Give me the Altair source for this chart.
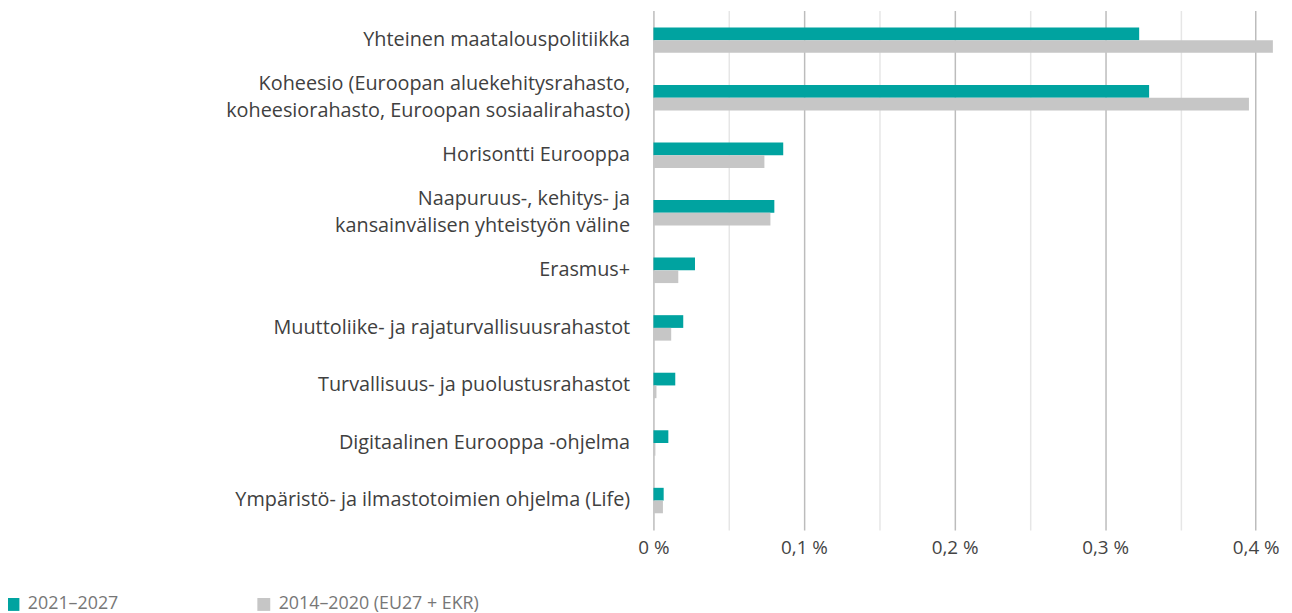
import altair as alt
import pandas as pd

categories = [
    "Yhteinen maatalouspolitiikka",
    "Koheesio (Euroopan aluekehitysrahasto,\nkoheesiorahasto, Euroopan sosiaalirahasto)",
    "Horisontti Eurooppa",
    "Naapuruus-, kehitys- ja\nkansainvälisen yhteistyön väline",
    "Erasmus+",
    "Muuttoliike- ja rajaturvallisuusrahastot",
    "Turvallisuus- ja puolustusrahastot",
    "Digitaalinen Eurooppa -ohjelma",
    "Ympäristö- ja ilmastotoimien ohjelma (Life)",
]
series = ["2021–2027", "2014–2020 (EU27 + EKR)"]
values_2021_2027 = [0.3226, 0.3292, 0.0862, 0.0803, 0.0276, 0.0198, 0.0145, 0.0099, 0.0068]
values_2014_2020 = [0.4114, 0.3955, 0.0737, 0.0777, 0.0165, 0.0118, 0.0020, 0.0013, 0.0063]
x_ticks = [0, 0.05, 0.1, 0.15, 0.2, 0.25, 0.3, 0.35, 0.4]
colors = ["#00a3a0", "#c6c6c6"]

rows = []
for c, a, b in zip(categories, values_2021_2027, values_2014_2020):
    rows.append({"category": c, "series": series[0], "value": a})
    rows.append({"category": c, "series": series[1], "value": b})
df = pd.DataFrame(rows)

FONT = "Open Sans"

label_expr = (
    "round(datum.value * 20) % 2 == 1 ? '' : "
    "(datum.value == 0 ? '0 %' : replace(format(datum.value, '.1f'), '.', ',') + ' %')"
)

chart = alt.Chart(df).mark_bar().encode(
    x=alt.X(
        "value:Q",
        title=None,
        scale=alt.Scale(domain=[0, 0.4122], nice=False, zero=True),
        axis=alt.Axis(
            values=x_ticks,
            labelExpr=label_expr,
            domain=False,
            ticks=False,
            labelPadding=9,
            labelFont=FONT,
            labelFontSize=19,
            labelColor="#444444",
            labelFlush=False,
            labelOverlap=False,
            grid=True,
            gridWidth=1.5,
            gridColor={
                "condition": {"test": "round(datum.value * 20) % 2 == 1", "value": "#e6e6e6"},
                "value": "#bcbcbc",
            },
        ),
    ),
    y=alt.Y(
        "category:N",
        title=None,
        sort=categories,
        scale=alt.Scale(paddingInner=0.5577, paddingOuter=0.2925),
        axis=alt.Axis(
            domain=False,
            ticks=False,
            labelPadding=24,
            labelFont=FONT,
            labelFontSize=20,
            labelColor="#404040",
            labelLimit=600,
            labelLineHeight=27,
            labelExpr="split(datum.label, '\\n')",
            labelOffset={
                "condition": {"test": "indexof(datum.label, '\\n') >= 0", "value": -13.5},
                "value": 0,
            },
        ),
    ),
    yOffset=alt.YOffset("series:N", sort=series, scale=alt.Scale(paddingInner=0, paddingOuter=0)),
    color=alt.Color(
        "series:N",
        sort=series,
        scale=alt.Scale(domain=series, range=colors),
        legend=alt.Legend(
            title=None,
            orient="none",
            legendX=-655,
            legendY=590,
            direction="horizontal",
            symbolType="square",
            symbolSize=169,
            symbolStrokeWidth=0,
            labelFont=FONT,
            labelFontSize=18,
            labelColor="#777777",
            labelOffset=6,
            labelLimit=400,
            columnPadding=137,
            padding=0,
        ),
    ),
).properties(
    width=626,
    height=524,
    autosize=alt.AutoSizeParams(type="none"),
    padding={"left": 651, "top": 0, "right": 10, "bottom": 81},
).configure_view(stroke=None)

chart.save("out.html", embed_options={"renderer": "svg", "actions": False})
